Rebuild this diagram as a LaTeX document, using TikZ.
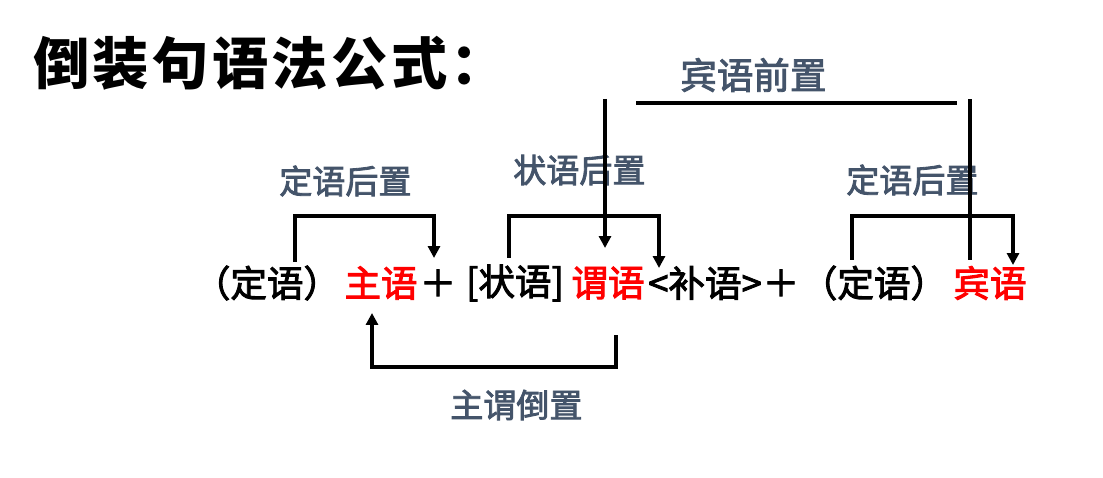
\documentclass[tikz,border=0pt]{standalone}
\usepackage{fontspec}
\usepackage{xcolor}
\usetikzlibrary{arrows.meta,positioning,calc}
\setmainfont{Noto Sans CJK SC}
\newfontfamily\cjk[FakeBold=2.5]{Noto Sans CJK SC}
\newfontfamily\cjkhead[LetterSpace=6]{Noto Sans CJK SC}
\definecolor{labelcolor}{RGB}{68,84,106}
\definecolor{keycolor}{RGB}{255,0,0}

\begin{document}
\begin{tikzpicture}[x=0.025cm,y=-0.025cm,
    word/.style={inner sep=0pt,font=\cjk\fontsize{26}{26}\selectfont},
    key/.style={word,text=keycolor},
    tag/.style={inner sep=0pt,anchor=west,text=labelcolor,font=\cjk\fontsize{23.5}{24}\selectfont},
    link/.style={line width=2.8pt},
    tip/.style={link,-{Triangle[width=8.5pt,length=8.5pt]}}]
    % Page frame
    \useasboundingbox (0,0) rectangle (1103,478);

    % Title
    \node[anchor=west,inner sep=0pt,font=\cjkhead\bfseries\fontsize{40}{40}\selectfont] (title) at (33,63) {倒装句语法公式：};

    % Formula
    \node[word] (attr1) at (267,283) {（定语）};
    \node[key]  (subj)  at (381,283) {主语};
    \node[word] (plus1) at (438,283) {＋};
    \node[word] (adv)   at (515,283) {[状语]};
    \node[key]  (pred)  at (608,283) {谓语};
    \node[word] (comp)  at (705,283) {<补语>};
    \node[word] (plus2) at (781,283) {＋};
    \node[word] (attr2) at (874,283) {（定语）};
    \node[key]  (obj)   at (990,283) {宾语};

    % Labels
    \node[tag,font=\cjk\fontsize{26}{26}\selectfont] (objfront) at (680,75) {宾语前置};
    \node[tag] (attrback1) at (279,181) {定语后置};
    \node[tag] (advback)   at (513,170) {状语后置};
    \node[tag] (attrback2) at (846,180) {定语后置};
    \node[tag] (inverse)   at (450,405) {主谓倒置};

    % Bracket ends
    \coordinate (a1) at (295,262);
    \coordinate (a1tip) at (434,258);
    \coordinate (b1) at (509,258);
    \coordinate (b1tip) at (659,268);
    \coordinate (c1) at (852,260);
    \coordinate (c1tip) at (1013,265);
    \coordinate (o1) at (970,260);
    \coordinate (o1tip) at (605,248);
    \coordinate (s1) at (616,335);
    \coordinate (s1tip) at (372,313);

    % Attribute after noun (subject)
    \draw[tip] (a1) -- ++(0,-46) -| (a1tip);

    % Adverbial after verb
    \draw[tip] (b1) -- ++(0,-42) -| (b1tip);

    % Attribute after noun (object)
    \draw[tip] (c1) -- ++(0,-44) -| (c1tip);

    % Object in front
    \draw[link] (o1) -- ++(0,-161);
    \draw[link] (636,103) -- (957,103);
    \draw[tip] (605,99) -- (o1tip);

    % Subject and predicate swapped
    \draw[tip] (s1) -- ++(0,32) -| (s1tip);
\end{tikzpicture}
\end{document}
